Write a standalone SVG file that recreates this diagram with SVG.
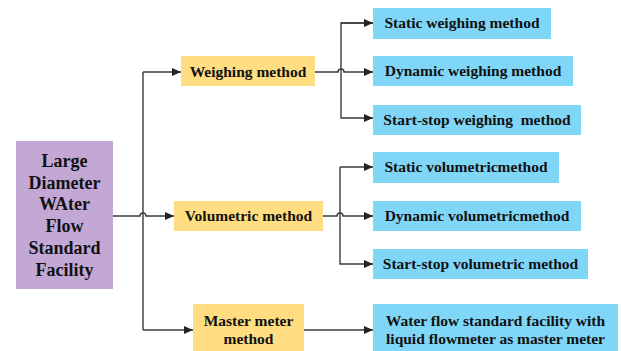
<svg xmlns="http://www.w3.org/2000/svg" width="621" height="351" viewBox="0 0 621 351">
<style>
.t{font-family:"Liberation Serif","Times New Roman",serif;font-weight:bold;fill:#111;text-anchor:middle;font-size:15.5px}
.big{font-size:18px}
.p{fill:#C3A8D6}
.y{fill:#FFDD80}
.b{fill:#80D6F7}
.c{fill:none;stroke:#3a3a3a;stroke-width:1.4}
</style>
<defs>
<marker id="ah" markerUnits="userSpaceOnUse" markerWidth="10" markerHeight="10" refX="9" refY="5" orient="auto">
<path d="M0,1 L9,5 L0,9 Z" fill="#222"/>
</marker>
</defs>
<rect width="621" height="351" fill="#fff"/>
<g id="connectors">
<path class="c" d="M143,72 V330"/>
<path class="c" d="M143,72 H181" marker-end="url(#ah)"/>
<path class="c" d="M143,330 H193" marker-end="url(#ah)"/>
<path class="c" d="M113,216 H140 A3,3 0 0 1 146,216 H174" marker-end="url(#ah)"/>
<path class="c" d="M315,72 H338 A3,3 0 0 1 344,72 H373" marker-end="url(#ah)"/>
<path class="c" d="M373,23 H341 V118 H373" marker-end="url(#ah)"/>
<path class="c" d="M341,23 H373" marker-end="url(#ah)"/>
<path class="c" d="M323,216 H337 A3,3 0 0 1 343,216 H373" marker-end="url(#ah)"/>
<path class="c" d="M340,167 V264 H373" marker-end="url(#ah)"/>
<path class="c" d="M340,167 H373" marker-end="url(#ah)"/>
<path class="c" d="M304,330 H373" marker-end="url(#ah)"/>
</g>
<g id="facility">
<rect class="p" x="16" y="141" width="97" height="148"/>
<text class="t big" x="64.5" y="167">Large</text>
<text class="t big" x="64.5" y="189">Diameter</text>
<text class="t big" x="64.5" y="210">WAter</text>
<text class="t big" x="64.5" y="232">Flow</text>
<text class="t big" x="64.5" y="254">Standard</text>
<text class="t big" x="64.5" y="276">Facility</text>
</g>
<g id="weighing">
<rect class="y" x="181" y="56" width="134" height="30"/>
<text class="t" x="248" y="77">Weighing method</text>
</g>
<g id="volumetric">
<rect class="y" x="174" y="201" width="149" height="30"/>
<text class="t" x="248.5" y="221">Volumetric method</text>
</g>
<g id="master">
<rect class="y" x="193" y="304" width="111" height="47"/>
<text class="t" x="248.5" y="326">Master meter</text>
<text class="t" x="248.5" y="344">method</text>
</g>
<g id="static-weighing">
<rect class="b" x="373" y="8" width="178" height="31"/>
<text class="t" x="462" y="28">Static weighing method</text>
</g>
<g id="dynamic-weighing">
<rect class="b" x="373" y="56" width="200" height="30"/>
<text class="t" x="473" y="76">Dynamic weighing method</text>
</g>
<g id="startstop-weighing">
<rect class="b" x="373" y="105" width="208" height="30"/>
<text class="t" x="477" y="125" xml:space="preserve">Start-stop weighing  method</text>
</g>
<g id="static-volumetric">
<rect class="b" x="373" y="152" width="186" height="31"/>
<text class="t" x="466" y="172">Static volumetricmethod</text>
</g>
<g id="dynamic-volumetric">
<rect class="b" x="373" y="201" width="208" height="30"/>
<text class="t" x="477" y="221">Dynamic volumetricmethod</text>
</g>
<g id="startstop-volumetric">
<rect class="b" x="373" y="249" width="215" height="30"/>
<text class="t" x="480.5" y="269">Start-stop volumetric method</text>
</g>
<g id="water-flow">
<rect class="b" x="373" y="304" width="245" height="47"/>
<text class="t" x="495.5" y="326">Water flow standard facility with</text>
<text class="t" x="495.5" y="344">liquid flowmeter as master meter</text>
</g>
</svg>
